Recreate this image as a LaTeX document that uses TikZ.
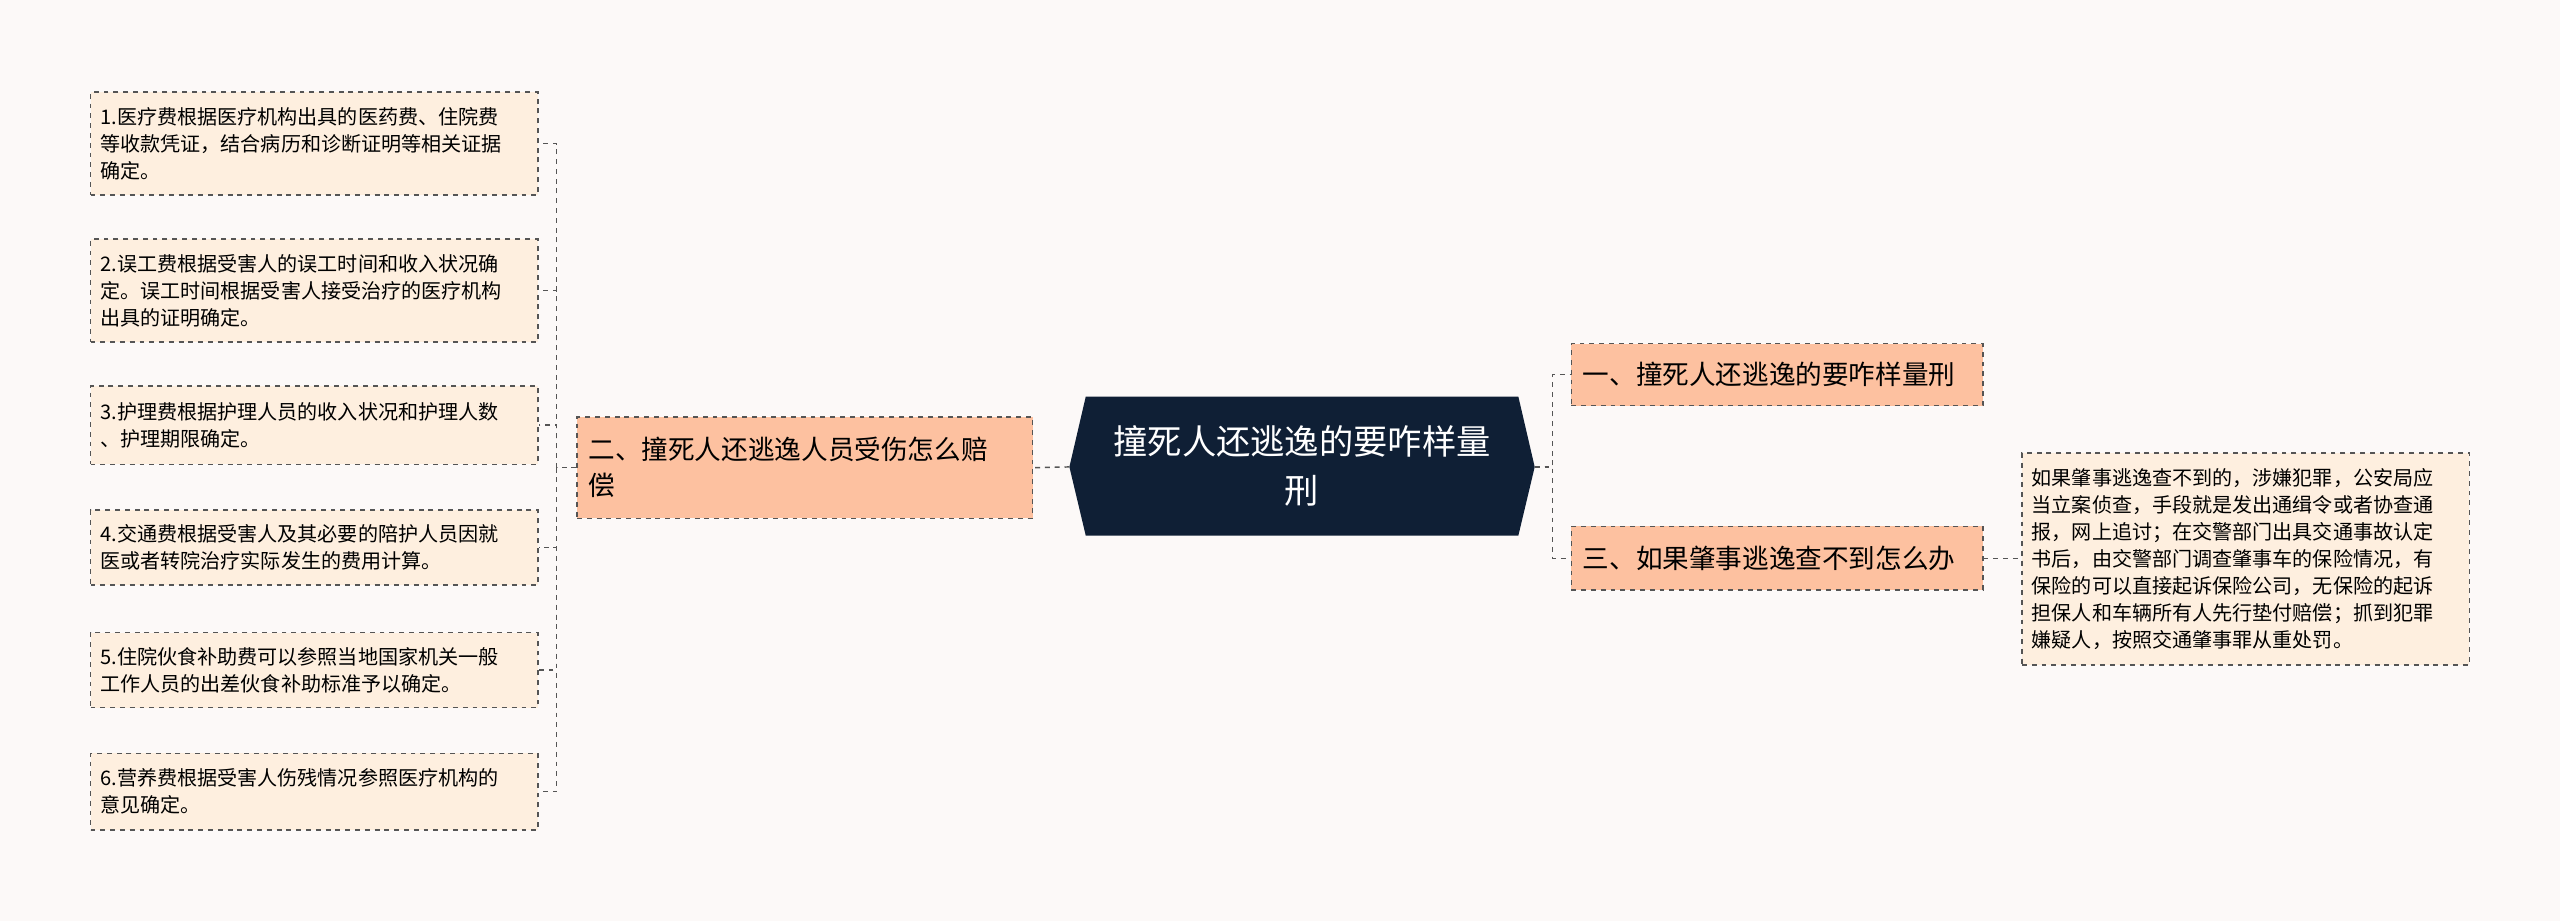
\documentclass[tikz,border=0pt]{standalone}
\usepackage{fontspec}
\setmainfont{Noto Sans CJK SC}
\definecolor{bg}{HTML}{FCF9F8}
\definecolor{navy}{HTML}{0F1F35}
\definecolor{salmon}{HTML}{FDC1A0}
\definecolor{cream}{HTML}{FEEFDF}
\definecolor{lc}{HTML}{555555}
\begin{document}
\begin{tikzpicture}[x=1pt,y=-1pt,
  conn/.style={draw=lc,dashed,line width=0.9pt},
  leaf/.style={draw=lc,dashed,line width=0.9pt,fill=cream,anchor=north west,align=left,inner sep=6pt,text width=262pt,font=\fontsize{12.3}{16.5}\selectfont},
  branch/.style={draw=lc,dashed,line width=0.9pt,fill=salmon,anchor=north west,align=left,inner sep=7pt,font=\fontsize{16.3}{22}\selectfont}]
\fill[bg] (0,0) rectangle (1568,564);
\useasboundingbox (0,0) rectangle (1568,564);
% center
\fill[navy] (665,243) -- (930,243) -- (940,286) -- (930,328) -- (665,328) -- (655,286) -- cycle;
\node[text=white,align=center,font=\fontsize{21}{30}\selectfont,minimum width=285pt,minimum height=85pt] (c) at (797.5,285.5) {撞死人还逃逸的要咋样量\\刑};
% branches
\node[branch,text width=265pt,minimum height=62pt] (lb) at (353,255) {二、撞死人还逃逸人员受伤怎么赔\\偿};
\node[branch,text width=238pt,minimum height=38pt] (r1) at (962,210) {一、撞死人还逃逸的要咋样量刑};
\node[branch,text width=238pt,minimum height=39pt] (r3) at (962,322) {三、如果肇事逃逸查不到怎么办};
% right leaf
\node[leaf,text width=262pt,minimum height=130pt] (rl) at (1238,277) {如果肇事逃逸查不到的，涉嫌犯罪，公安局应\\当立案侦查，手段就是发出通缉令或者协查通\\报，网上追讨；在交警部门出具交通事故认定\\书后，由交警部门调查肇事车的保险情况，有\\保险的可以直接起诉保险公司，无保险的起诉\\担保人和车辆所有人先行垫付赔偿；抓到犯罪\\嫌疑人，按照交通肇事罪从重处罚。};
% left leaves
\node[leaf,minimum height=63pt] (l1) at (55,56) {1.医疗费根据医疗机构出具的医药费、住院费\\等收款凭证，结合病历和诊断证明等相关证据\\确定。};
\node[leaf,minimum height=63pt] (l2) at (55,146) {2.误工费根据受害人的误工时间和收入状况确\\定。误工时间根据受害人接受治疗的医疗机构\\出具的证明确定。};
\node[leaf,minimum height=48pt] (l3) at (55,236) {3.护理费根据护理人员的收入状况和护理人数\\、护理期限确定。};
\node[leaf,minimum height=46pt] (l4) at (55,312) {4.交通费根据受害人及其必要的陪护人员因就\\医或者转院治疗实际发生的费用计算。};
\node[leaf,minimum height=46pt] (l5) at (55,387) {5.住院伙食补助费可以参照当地国家机关一般\\工作人员的出差伙食补助标准予以确定。};
\node[leaf,minimum height=47pt] (l6) at (55,461) {6.营养费根据受害人伤残情况参照医疗机构的\\意见确定。};
% connectors
\draw[conn] (655,286) -- (lb.east);
\foreach \n in {l1,l2,l3,l4,l5,l6} \draw[conn] (lb.west) -- ++(-12,0) |- (\n.east);
\draw[conn] (940,286) -- ++(11,0) |- (r1.west);
\draw[conn] (940,286) -- ++(11,0) |- (r3.west);
\draw[conn] (r3.east) -- (rl.west |- r3.east);
\end{tikzpicture}
\end{document}
